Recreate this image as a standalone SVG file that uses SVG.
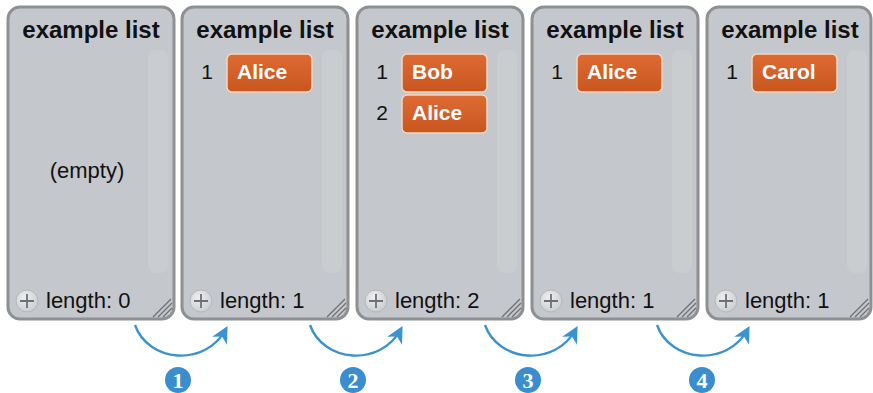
<svg xmlns="http://www.w3.org/2000/svg" width="873" height="393" viewBox="0 0 873 393">
<defs>
<linearGradient id="item" x1="0" y1="0" x2="0" y2="1">
<stop offset="0" stop-color="#DE6B33"/>
<stop offset="1" stop-color="#C9561F"/>
</linearGradient>
<radialGradient id="plus" cx="0.4" cy="0.35" r="0.7">
<stop offset="0" stop-color="#EEEFF0"/>
<stop offset="1" stop-color="#C9CBCE"/>
</radialGradient>
<marker id="ah" viewBox="0 0 10 10" refX="8" refY="5" markerWidth="7" markerHeight="7" orient="auto" markerUnits="strokeWidth">
<path d="M0,0 L10,5 L0,10 L3,5 Z" fill="#3A93D2"/>
</marker>
</defs>
<style>
.panel{fill:#C4C7CB;stroke:#8E9093;stroke-width:3}
.track{fill:#CACDD0}
.title{font-family:"Liberation Sans",Arial,sans-serif;font-weight:bold;font-size:24px;fill:#111;text-anchor:middle}
.txt{font-family:"Liberation Sans",Arial,sans-serif;font-size:22px;fill:#111}
.idx{font-family:"Liberation Sans",Arial,sans-serif;font-size:21px;fill:#111;text-anchor:middle}
.item{fill:url(#item);stroke:#F3D7C0;stroke-width:1.5}
.itxt{font-family:"Liberation Sans",Arial,sans-serif;font-weight:bold;font-size:21px;fill:#fff}
.plusc{fill:url(#plus);stroke:#B5B8BB;stroke-width:1}
.plusl{stroke:#6E7074;stroke-width:1.8}
.hatch{stroke:#6F7174;stroke-width:1.3}
.arrow{fill:none;stroke:#3A93D2;stroke-width:2.4;marker-end:url(#ah)}
.num{fill:#3A8ECF}
.ntxt{font-family:"Liberation Serif",serif;font-weight:bold;font-size:22px;fill:#fff;text-anchor:middle}
</style>

<g id="panel1" transform="translate(8,7)">
<rect class="panel" x="0" y="0" width="166" height="312" rx="12"/>
<rect class="track" x="140" y="43" width="20" height="223" rx="8"/>
<text class="title" x="83" y="31">example list</text>
<text class="txt" x="79" y="171" text-anchor="middle">(empty)</text>
<circle class="plusc" cx="19" cy="294" r="11"/>
<path class="plusl" d="M12,294 H26 M19,287 V301"/>
<text class="txt" x="38" y="301">length: 0</text>
<path class="hatch" d="M145,310 L163,292 M150,310 L164,296 M155,310 L164,301"/>
</g>

<g id="panel2" transform="translate(182,7)">
<rect class="panel" x="0" y="0" width="166" height="312" rx="12"/>
<rect class="track" x="140" y="43" width="20" height="223" rx="8"/>
<text class="title" x="83" y="31">example list</text>
<text class="idx" x="25" y="72">1</text>
<rect class="item" x="45" y="47" width="85" height="38" rx="5"/>
<text class="itxt" x="55" y="72">Alice</text>
<circle class="plusc" cx="19" cy="294" r="11"/>
<path class="plusl" d="M12,294 H26 M19,287 V301"/>
<text class="txt" x="38" y="301">length: 1</text>
<path class="hatch" d="M145,310 L163,292 M150,310 L164,296 M155,310 L164,301"/>
</g>

<g id="panel3" transform="translate(357,7)">
<rect class="panel" x="0" y="0" width="166" height="312" rx="12"/>
<rect class="track" x="140" y="43" width="20" height="223" rx="8"/>
<text class="title" x="83" y="31">example list</text>
<text class="idx" x="25" y="72">1</text>
<rect class="item" x="45" y="47" width="85" height="38" rx="5"/>
<text class="itxt" x="55" y="72">Bob</text>
<text class="idx" x="25" y="113">2</text>
<rect class="item" x="45" y="88" width="85" height="38" rx="5"/>
<text class="itxt" x="55" y="113">Alice</text>
<circle class="plusc" cx="19" cy="294" r="11"/>
<path class="plusl" d="M12,294 H26 M19,287 V301"/>
<text class="txt" x="38" y="301">length: 2</text>
<path class="hatch" d="M145,310 L163,292 M150,310 L164,296 M155,310 L164,301"/>
</g>

<g id="panel4" transform="translate(532,7)">
<rect class="panel" x="0" y="0" width="166" height="312" rx="12"/>
<rect class="track" x="140" y="43" width="20" height="223" rx="8"/>
<text class="title" x="83" y="31">example list</text>
<text class="idx" x="25" y="72">1</text>
<rect class="item" x="45" y="47" width="85" height="38" rx="5"/>
<text class="itxt" x="55" y="72">Alice</text>
<circle class="plusc" cx="19" cy="294" r="11"/>
<path class="plusl" d="M12,294 H26 M19,287 V301"/>
<text class="txt" x="38" y="301">length: 1</text>
<path class="hatch" d="M145,310 L163,292 M150,310 L164,296 M155,310 L164,301"/>
</g>

<g id="panel5" transform="translate(707,7)">
<rect class="panel" x="0" y="0" width="164" height="312" rx="12"/>
<rect class="track" x="140" y="43" width="20" height="223" rx="8"/>
<text class="title" x="83" y="31">example list</text>
<text class="idx" x="25" y="72">1</text>
<rect class="item" x="45" y="47" width="85" height="38" rx="5"/>
<text class="itxt" x="55" y="72">Carol</text>
<circle class="plusc" cx="19" cy="294" r="11"/>
<path class="plusl" d="M12,294 H26 M19,287 V301"/>
<text class="txt" x="38" y="301">length: 1</text>
<path class="hatch" d="M143,310 L161,292 M148,310 L162,296 M153,310 L162,301"/>
</g>

<g id="connectors">
<path class="arrow" d="M135,325 C148,362 205,368 226,329"/>
<path class="arrow" d="M310,325 C323,362 380,368 401,329"/>
<path class="arrow" d="M485,325 C498,362 555,368 576,329"/>
<path class="arrow" d="M657,325 C670,362 727,368 748,329"/>
</g>

<g id="step1"><circle class="num" cx="178" cy="380" r="13"/><text class="ntxt" x="178" y="388">1</text></g>
<g id="step2"><circle class="num" cx="353" cy="380" r="13"/><text class="ntxt" x="353" y="388">2</text></g>
<g id="step3"><circle class="num" cx="528" cy="380" r="13"/><text class="ntxt" x="528" y="388">3</text></g>
<g id="step4"><circle class="num" cx="702" cy="380" r="13"/><text class="ntxt" x="702" y="388">4</text></g>
</svg>
